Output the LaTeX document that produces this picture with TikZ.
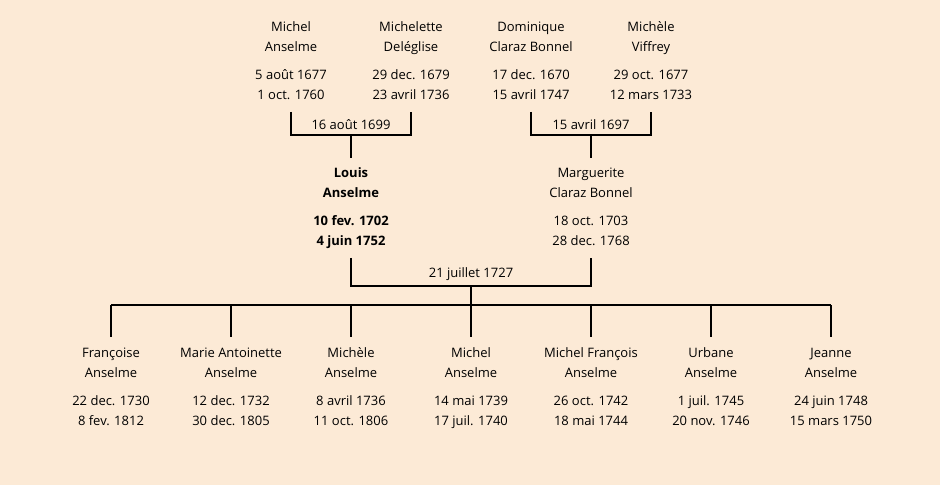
\documentclass[tikz,border=0pt]{standalone}
\usepackage{fontspec}
\setmainfont{Open Sans}
\usetikzlibrary{positioning}
\definecolor{parchment}{RGB}{252,234,214}
\newcommand{\entry}[4]{\strut#1\\#2\\[4pt]#3\\#4\strut}
\tikzset{person/.style={align=center, inner sep=0pt, outer ysep=3pt,
   font=\fontsize{6.5}{10}\selectfont},
 wedding/.style={inner sep=1pt, font=\fontsize{6.5}{10}\selectfont},
 kin/.style={line width=1pt},
 }

\begin{document}
\begin{tikzpicture}[x=0.5pt, y=-0.5pt]
    \fill[parchment] (0,0) rectangle (940,485);
    \useasboundingbox (0,0) rectangle (940,485);

    % grandparents
    \node[person] (michel) at (291,62) {\entry{Michel}{Anselme}{5 août 1677}{1 oct. 1760}};
    \node[person] (michelette) at (411,62) {\entry{Michelette}{Deléglise}{29 dec. 1679}{23 avril 1736}};
    \node[person] (dominique) at (531,62) {\entry{Dominique}{Claraz Bonnel}{17 dec. 1670}{15 avril 1747}};
    \node[person] (michele) at (651,62) {\entry{Michèle}{Viffrey}{29 oct. 1677}{12 mars 1733}};

    % parents
    \node[person, font=\fontsize{6.5}{10}\selectfont\bfseries] (louis) at (351,208) {\entry{Louis}{Anselme}{10 fev. 1702}{4 juin 1752}};
    \node[person] (marguerite) at (591,208) {\entry{Marguerite}{Claraz Bonnel}{18 oct. 1703}{28 dec. 1768}};

    % weddings
    \coordinate (j1) at (351,135);
    \coordinate (j2) at (591,135);
    \coordinate (j3) at (471,286);
    \coordinate (sibs) at (471,305);
    \node[wedding] (w1) at (351,125) {16 août 1699};
    \node[wedding] (w2) at (591,125) {15 avril 1697};
    \node[wedding] (w3) at (471,274) {21 juillet 1727};

    \draw[kin] (michel.south) |- (j1) -| (michelette.south);
    \draw[kin] (j1) -- (louis.north);
    \draw[kin] (dominique.south) |- (j2) -| (michele.south);
    \draw[kin] (j2) -- (marguerite.north);
    \draw[kin] (louis.south) |- (j3) -| (marguerite.south);
    \draw[kin] (j3) -- (sibs);

    % children
    \foreach \first/\born/\died [count=\i] in {Françoise/22 dec. 1730/8 fev. 1812,
        Marie Antoinette/12 dec. 1732/30 dec. 1805, Michèle/8 avril 1736/11 oct. 1806,
        Michel/14 mai 1739/17 juil. 1740, Michel François/26 oct. 1742/18 mai 1744,
        Urbane/1 juil. 1745/20 nov. 1746, Jeanne/24 juin 1748/15 mars 1750} {
        \node[person] (c\i) at (111+120*\i-120,387) {\entry{\first}{Anselme}{\born}{\died}};
        \draw[kin] (c\i.north) -- (c\i.north |- sibs);
    }
    \draw[kin] (c1.north |- sibs) -- (c7.north |- sibs);
\end{tikzpicture}
\end{document}
